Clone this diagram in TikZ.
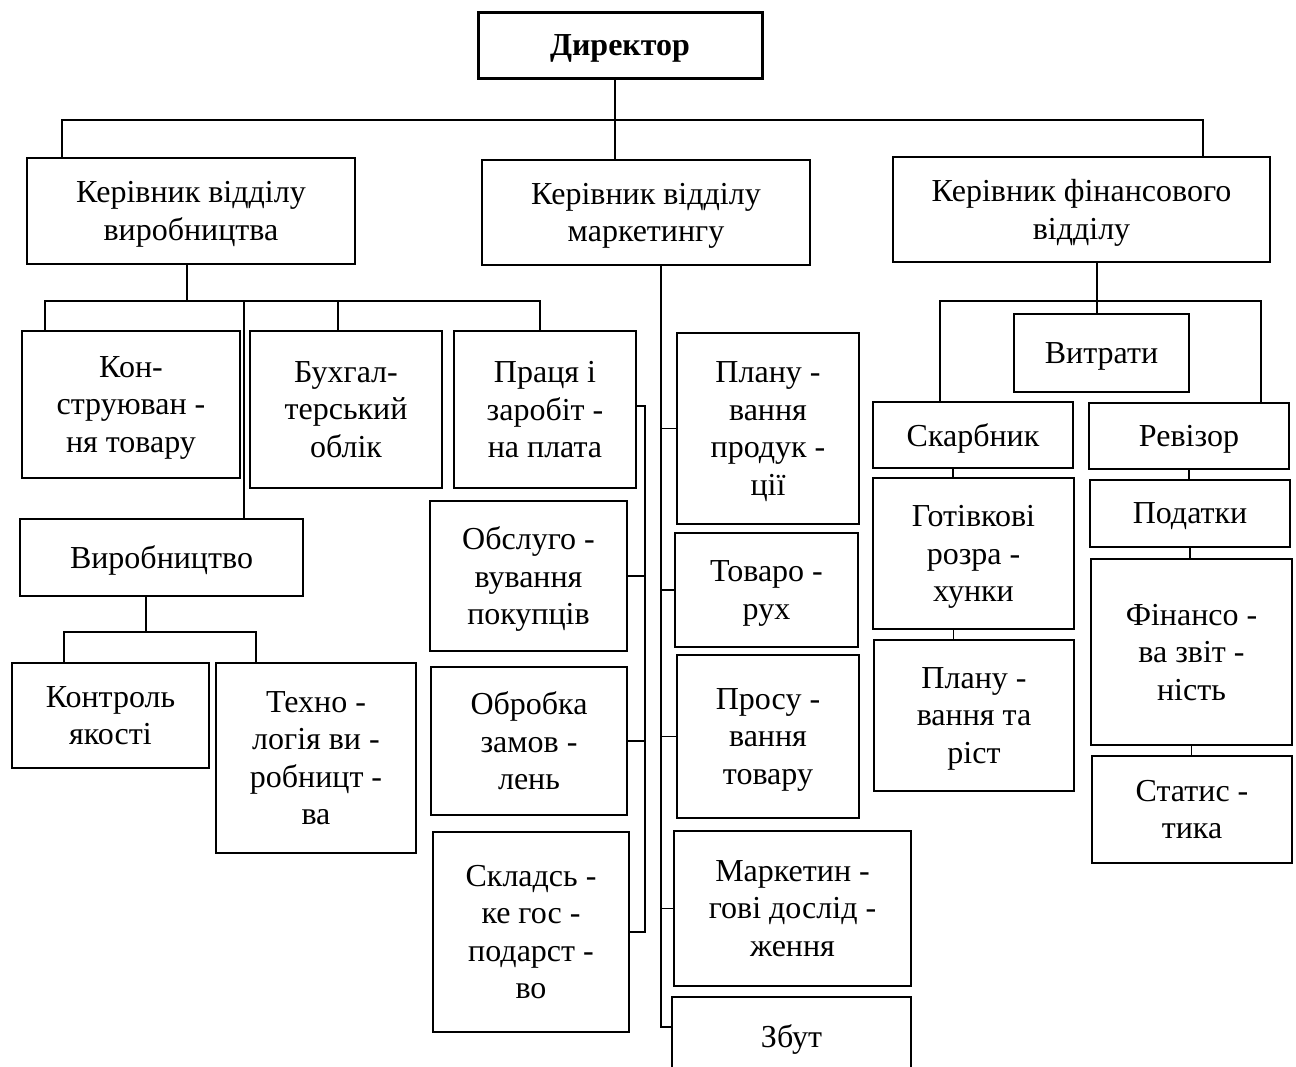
\documentclass[tikz,border=0pt]{standalone}
\usepackage{fontspec}
\setmainfont{Liberation Serif}
\begin{document}
\begin{tikzpicture}[x=1pt,y=-1pt,
  box/.style={draw, line width=1.8pt, align=center, inner sep=0pt, text depth=0pt, font=\fontsize{32}{37.5}\selectfont},
  dirbox/.style={box, line width=3pt, font=\fontsize{32}{37.5}\selectfont\bfseries},
  ln/.style={line width=1.8pt}]
\fill[white] (0,0) rectangle (1296,1066);
\useasboundingbox (0,0) rectangle (1296,1066);

% top level
\node[dirbox, minimum width=284pt, minimum height=66pt] (dir) at (620,45) {Директор};
\node[box, minimum width=328pt, minimum height=106pt] (k1) at (191,211) {Керівник відділу\\виробництва};
\node[box, minimum width=328pt, minimum height=105pt] (k2) at (646,212.5) {Керівник відділу\\маркетингу};
\node[box, minimum width=377pt, minimum height=105pt] (k3) at (1081.5,209.5) {Керівник фінансового\\відділу};

% production
\node[box, minimum width=218pt, minimum height=147pt] (kon) at (131,404.5) {Кон-\\струюван -\\ня товару};
\node[box, minimum width=192pt, minimum height=157pt] (buh) at (346,409.5) {Бухгал-\\терський\\облік};
\node[box, minimum width=182pt, minimum height=157pt] (prac) at (545,409.5) {Праця і\\заробіт -\\на плата};
\node[box, minimum width=283pt, minimum height=77pt] (vyr) at (161.5,557.5) {Виробництво};
\node[box, minimum width=197pt, minimum height=105pt] (kontr) at (110.5,715.5) {Контроль\\якості};
\node[box, minimum width=200pt, minimum height=190pt] (tech) at (316,758) {Техно -\\логія ви -\\робницт -\\ва};

% marketing, left column
\node[box, minimum width=197pt, minimum height=150pt] (obsl) at (528.5,576) {Обслуго -\\вування\\покупців};
\node[box, minimum width=196pt, minimum height=148pt] (obr) at (529,741) {Обробка\\замов -\\лень};
\node[box, minimum width=196pt, minimum height=200pt] (sklad) at (531,932) {Складсь -\\ке гос -\\подарст -\\во};

% marketing, right column
\node[box, minimum width=182pt, minimum height=191pt] (plan) at (768,428.5) {Плану -\\вання\\продук -\\ції};
\node[box, minimum width=183pt, minimum height=114pt] (tov) at (766.5,590) {Товаро -\\рух};
\node[box, minimum width=182pt, minimum height=163pt] (pros) at (768,736.5) {Просу -\\вання\\товару};
\node[box, minimum width=237pt, minimum height=155pt] (mark) at (792.5,908.5) {Маркетин -\\гові дослід -\\ження};
\node[box, minimum width=239pt, minimum height=78pt] (zbut) at (791.5,1036) {Збут};

% finance
\node[box, minimum width=175pt, minimum height=78pt] (vytr) at (1101.5,353) {Витрати};
\node[box, minimum width=200pt, minimum height=66pt] (skar) at (973,435) {Скарбник};
\node[box, minimum width=200pt, minimum height=66pt] (rev) at (1189,436) {Ревізор};
\node[box, minimum width=201pt, minimum height=151pt] (hot) at (973.5,553.5) {Готівкові\\розра -\\хунки};
\node[box, minimum width=200pt, minimum height=67pt] (pod) at (1190,513.5) {Податки};
\node[box, minimum width=200pt, minimum height=151pt] (pl2) at (974,715.5) {Плану -\\вання та\\ріст};
\node[box, minimum width=201pt, minimum height=186pt] (fin) at (1191.5,652) {Фінансо -\\ва звіт -\\ність};
\node[box, minimum width=200pt, minimum height=107pt] (stat) at (1192,809.5) {Статис -\\тика};

% top connectors
\coordinate (t0) at (615,120);
\coordinate (t1) at (62,120);
\coordinate (t2) at (1203,120);
\draw[ln] (dir.south -| t0) -- (t0) -- (k2.north -| t0);
\draw[ln] (k1.north -| t1) -- (t1) -- (t2) -- (k3.north -| t2);

% production connectors
\coordinate (p0) at (187,301);
\coordinate (p1) at (45,301);
\coordinate (p2) at (540,301);
\coordinate (p3) at (338,301);
\coordinate (p4) at (244,301);
\draw[ln] (k1.south -| p0) -- (p0);
\draw[ln] (kon.north -| p1) -- (p1) -- (p2) -- (prac.north -| p2);
\draw[ln] (p3) -- (buh.north -| p3);
\draw[ln] (p4) -- (vyr.north -| p4);
\coordinate (q0) at (146,632);
\coordinate (q1) at (64,632);
\coordinate (q2) at (256,632);
\draw[ln] (vyr.south -| q0) -- (q0);
\draw[ln] (kontr.north -| q1) -- (q1) -- (q2) -- (tech.north -| q2);

% marketing connectors
\coordinate (m0) at (661,265);
\coordinate (m1) at (661,1027);
\draw[ln] (k2.south -| m0) -- (m1) -- (zbut.west |- m1);
\draw[ln] (plan.west -| m0) -- (plan.west);
\draw[ln] (tov.west -| m0) -- (tov.west);
\draw[ln] (pros.west -| m0) -- (pros.west);
\draw[ln] (mark.west -| m0) -- (mark.west);
\coordinate (br1) at (645,406);
\coordinate (br2) at (645,932);
\draw[ln] (prac.east |- br1) -- (br1) -- (br2) -- (sklad.east |- br2);
\draw[ln] (obsl.east) -- (obsl.east -| br1);
\draw[ln] (obr.east) -- (obr.east -| br1);

% finance connectors
\coordinate (f0) at (1097,301);
\coordinate (f1) at (940,301);
\coordinate (f2) at (1261,301);
\draw[ln] (k3.south -| f0) -- (f0) -- (vytr.north -| f0);
\draw[ln] (skar.north -| f1) -- (f1) -- (f2) -- (rev.north -| f2);
\draw[ln] ([xshift=-20pt]skar.south) -- ([xshift=-20pt]skar.south |- hot.north);
\draw[ln] ([xshift=-20pt]hot.south) -- ([xshift=-20pt]hot.south |- pl2.north);
\draw[ln] (rev.south) -- (rev.south |- pod.north);
\draw[ln] (pod.south) -- (pod.south |- fin.north);
\draw[ln] (fin.south) -- (fin.south |- stat.north);
\end{tikzpicture}
\end{document}
